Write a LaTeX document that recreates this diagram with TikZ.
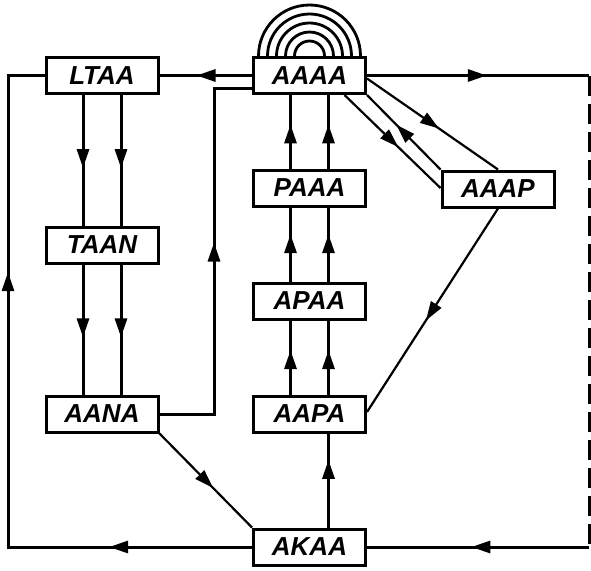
\documentclass[tikz,border=0pt]{standalone}
\usepackage{fontspec}
\setmainfont{Liberation Sans}
\usetikzlibrary{arrows.meta,decorations.markings}
\tikzset{
  box/.style={draw, line width=3pt, minimum width=112pt, minimum height=36pt, inner sep=0pt,
    font=\bfseries\itshape\fontsize{26}{26}\selectfont},
  thk/.style={line width=3pt},
  thn/.style={line width=2.2pt},
  mk/.style={postaction={decorate},decoration={markings,mark=at position #1 with {\arrow{>}}}},
  arcline/.style={line width=2.8pt},
}
\begin{document}
\begin{tikzpicture}[x=1pt,y=-1pt,>={Triangle[length=19pt,width=12pt]}]
\useasboundingbox (0,0) rectangle (591,570);
\node[box] (LTAA) at (102,75.5) {LTAA};
\node[box] (AAAA) at (309.5,75.5) {AAAA};
\node[box] (PAAA) at (309.5,188) {PAAA};
\node[box] (AAAP) at (498,189) {AAAP};
\node[box] (TAAN) at (102,245) {TAAN};
\node[box] (APAA) at (309.5,301) {APAA};
\node[box] (AANA) at (102,414) {AANA};
\node[box] (AAPA) at (309.5,414) {AAPA};
\node[box] (AKAA) at (309.5,547) {AKAA};
\coordinate (bl) at (8,547);
\coordinate (tl) at (8,75.5);
\coordinate (tr) at (589,75.5);
\coordinate (br) at (589,547);
\coordinate (ja) at (214,414);
\coordinate (jb) at (214,88);
% arcs over AAAA
\foreach \r in {15,24,33,42,51} {
  \draw[arcline] ([xshift=-\r pt]AAAA.north) arc[start angle=180,end angle=0,radius=\r pt];
}
% vertical pairs
\foreach \s in {-19,19} {
  \draw[thk,mk=0.56] ([xshift=\s pt]LTAA.south) -- ([xshift=\s pt]TAAN.north);
  \draw[thk,mk=0.56] ([xshift=\s pt]TAAN.south) -- ([xshift=\s pt]AANA.north);
  \draw[thk,mk=0.6] ([xshift=\s pt]AAPA.north) -- ([xshift=\s pt]APAA.south);
  \draw[thk,mk=0.64] ([xshift=\s pt]APAA.north) -- ([xshift=\s pt]PAAA.south);
  \draw[thk,mk=0.6] ([xshift=\s pt]PAAA.north) -- ([xshift=\s pt]AAAA.south);
}
\draw[thk,mk=0.72] ([xshift=19pt]AKAA.north) -- ([xshift=19pt]AAPA.south);
% AAAA -> LTAA
\draw[thk,mk=0.6] (AAAA.west) -- (LTAA.east);
% AANA -> AAAA
\draw[thk,mk=0.54] (AANA.east) -- (ja) -- (jb) -- ([yshift=-12.5pt]AAAA.west);
% left loop
\draw[thk,postaction={decorate},decoration={markings,
   mark=at position 0.19 with {\arrow{>}},
   mark=at position 0.69 with {\arrow{>}}}]
   (AKAA.west) -- (bl) -- (tl) -- (LTAA.west);
% right loop
\draw[thk,mk=0.54] (AAAA.east) -- (tr);
\draw[thk,dash pattern=on 20pt off 8pt] (tr) -- (br);
\draw[thk,mk=0.53] (br) -- (AKAA.east);
% diagonals
\draw[thn,mk=0.58] (AANA.south east) -- (AKAA.north west);
\draw[thn,mk=0.55] (AAAP.south) -- ([yshift=2pt]AAPA.east);
\draw[thn,mk=0.55] ([yshift=-3pt]AAAA.east) -- (AAAP.north);
\draw[thn,mk=0.6] (AAAP.north west) -- (AAAA.south east);
\draw[thn,mk=0.56] ([xshift=35pt]AAAA.south) -- ([yshift=1pt]AAAP.west);
\end{tikzpicture}
\end{document}
